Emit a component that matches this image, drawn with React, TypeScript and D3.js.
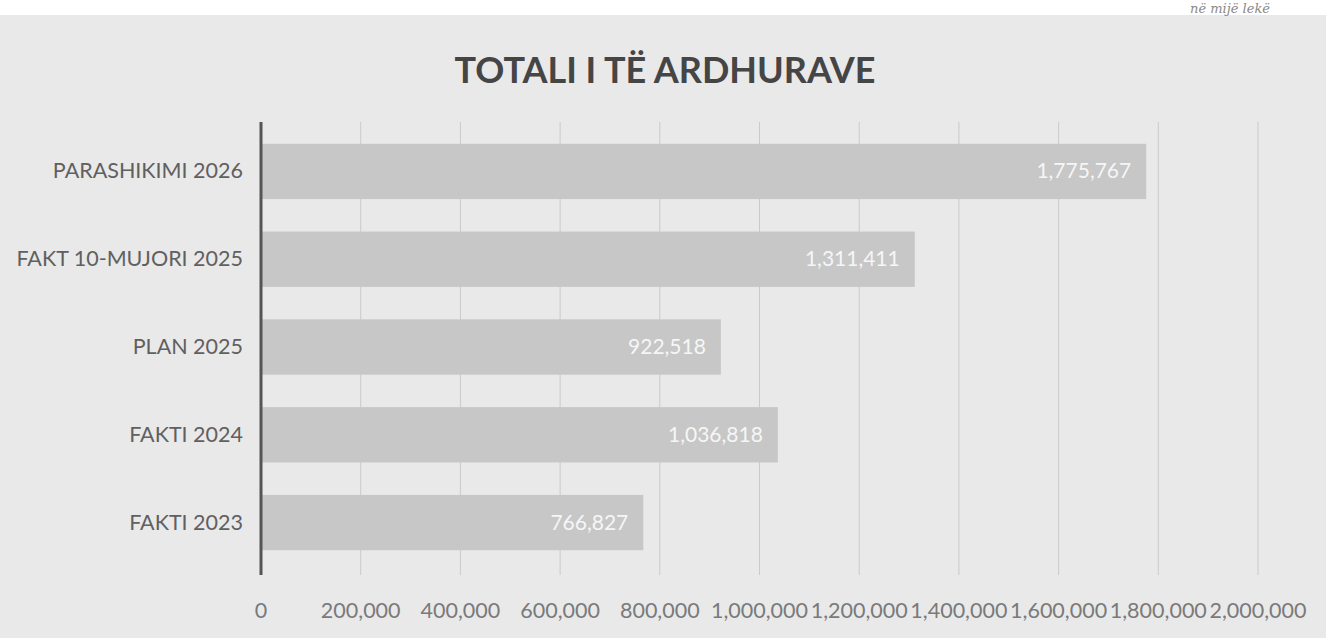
import React from "react";
import * as d3 from "d3";

const categories = ["PARASHIKIMI 2026", "FAKT 10-MUJORI 2025", "PLAN 2025", "FAKTI 2024", "FAKTI 2023"];
const values = [1775767, 1311411, 922518, 1036818, 766827];
const ticks = [0, 200000, 400000, 600000, 800000, 1000000, 1200000, 1400000, 1600000, 1800000, 2000000];
const title = "TOTALI I TË ARDHURAVE";
const note = "në mijë lekë";

const W = 1326;
const H = 638;
const left = 261;
const right = 1258;
const top = 122;
const bottom = 575;

export default function App() {
  const x = d3.scaleLinear().domain([0, 2000000]).range([left, right]);
  const y = d3.scaleBand().domain(categories).range([128, 566]).paddingInner(0.37).paddingOuter(0.18);
  const fmt = d3.format(",");
  const font = "Lato, 'Open Sans', sans-serif";
  return (
    <svg width={W} height={H} style={{ position: "absolute", left: 0, top: 0 }} fontFamily={font}>
      <rect x={0} y={0} width={W} height={H} fill="#ffffff" />
      <rect x={0} y={15} width={W} height={H - 15} fill="#e9e9ea" />
      <text x={1270} y={13} textAnchor="end" fontFamily="'DejaVu Serif', serif" fontStyle="italic" fontSize={13} fill="#888">{note}</text>
      <text x={665} y={83} textAnchor="middle" fontSize={36} fontWeight="bold" fill="#454545">{title}</text>
      {ticks.slice(1).map((t) => (
        <line key={t} x1={x(t)} x2={x(t)} y1={top} y2={bottom} stroke="#cacaca" strokeWidth={1} />
      ))}
      {categories.map((c, i) => (
        <g key={c}>
          <rect x={x(0)} y={y(c)!} width={x(values[i]) - x(0)} height={y.bandwidth()} fill="#c7c7c8" />
          <text x={x(values[i]) - 15} y={y(c)! + y.bandwidth() / 2 + 7} textAnchor="end" fontSize={21} fill="#f6f6f6">{fmt(values[i])}</text>
          <text x={243} y={y(c)! + y.bandwidth() / 2 + 7} textAnchor="end" fontSize={21.5} fill="#606060">{c}</text>
        </g>
      ))}
      <line x1={left} x2={left} y1={top} y2={bottom} stroke="#555" strokeWidth={3} />
      {ticks.map((t) => (
        <text key={t} x={x(t)} y={618} textAnchor="middle" fontSize={21.5} fill="#7a7a7a">{fmt(t)}</text>
      ))}
    </svg>
  );
}
